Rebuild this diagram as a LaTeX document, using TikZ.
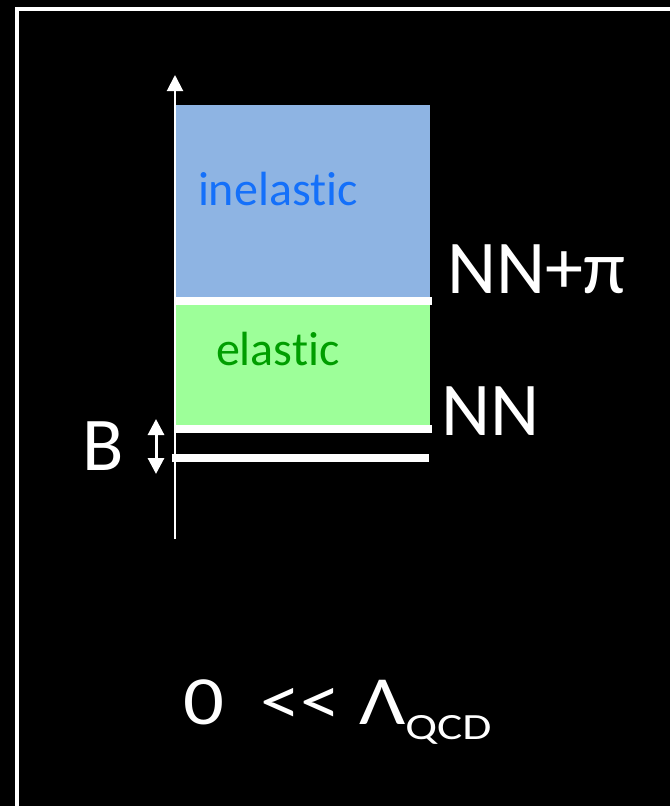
\documentclass[tikz,border=0pt]{standalone}
\usepackage{fontspec}
\setmainfont{Carlito}[Ligatures={NoCommon},Numbers={Lining}]
\usetikzlibrary{arrows.meta}
\definecolor{inelbg}{RGB}{142,180,227}
\definecolor{elbg}{RGB}{157,255,153}
\definecolor{ineltxt}{RGB}{20,112,250}
\definecolor{eltxt}{RGB}{0,158,0}
\tikzset{
  lbl/.style={inner sep=0pt, outer sep=0pt, anchor=base west, text=white},
  band/.style={draw=none, inner sep=0pt, outer sep=0pt, anchor=north west},
  level/.style={draw=white, line width=8pt},
  axisline/.style={draw=white, line width=2pt, -{Triangle[width=16pt,length=16pt]}},
  barr/.style={draw=white, line width=3pt, {Triangle[width=16pt,length=16pt]}-{Triangle[width=16pt,length=16pt]}}
}
\begin{document}
\begin{tikzpicture}[x=1pt,y=-1pt]
\useasboundingbox (0,0) rectangle (670,806);
\clip (0,0) rectangle (670,806);
\fill[black] (0,0) rectangle (670,806);
\draw[white, line width=4pt] (17,9) rectangle (720,860);
% bands
\node[band, fill=inelbg, minimum width=254pt, minimum height=193pt] (inel) at (176,105) {};
\node[band, fill=elbg, minimum width=254pt, minimum height=121pt] (el) at (176,304) {};
% level lines
\coordinate (l1a) at (176,301); \coordinate (l1b) at (432,301);
\coordinate (l2a) at (176,429); \coordinate (l2b) at (432,429);
\coordinate (l3a) at (172,458); \coordinate (l3b) at (429,458);
\draw[level] (l1a) -- (l1b);
\draw[level] (l2a) -- (l2b);
\draw[level] (l3a) -- (l3b);
% axis
\coordinate (ax0) at (175,539); \coordinate (ax1) at (175,75);
\draw[axisline] (ax0) -- (ax1);
% B arrow
\coordinate (b0) at (156,474); \coordinate (b1) at (156,419);
\draw[barr] (b0) -- (b1);
% labels
\node[lbl, text=ineltxt, font=\fontsize{48}{58}\selectfont] (tinel) at (198,205) {inelastic};
\node[lbl, text=eltxt, font=\fontsize{48}{58}\selectfont] (tel) at (216,365) {elastic};
\node[lbl, font=\fontsize{76}{90}\selectfont] (tnnpi) at (447,293) {NN+π};
\node[lbl, font=\fontsize{76}{90}\selectfont] (tnn) at (441,435) {NN};
\node[lbl, font=\fontsize{76}{90}\selectfont] (tb) at (82,470) {B};
\node[lbl, font=\fontsize{69}{80}\selectfont] (tqcd) at (183,724) {\scalebox{1.17}[1]{0\ \ {<}{<}\ Λ}\raisebox{-15pt}{\scalebox{1.28}[1]{\fontsize{37}{40}\selectfont QCD}}};
\end{tikzpicture}
\end{document}
